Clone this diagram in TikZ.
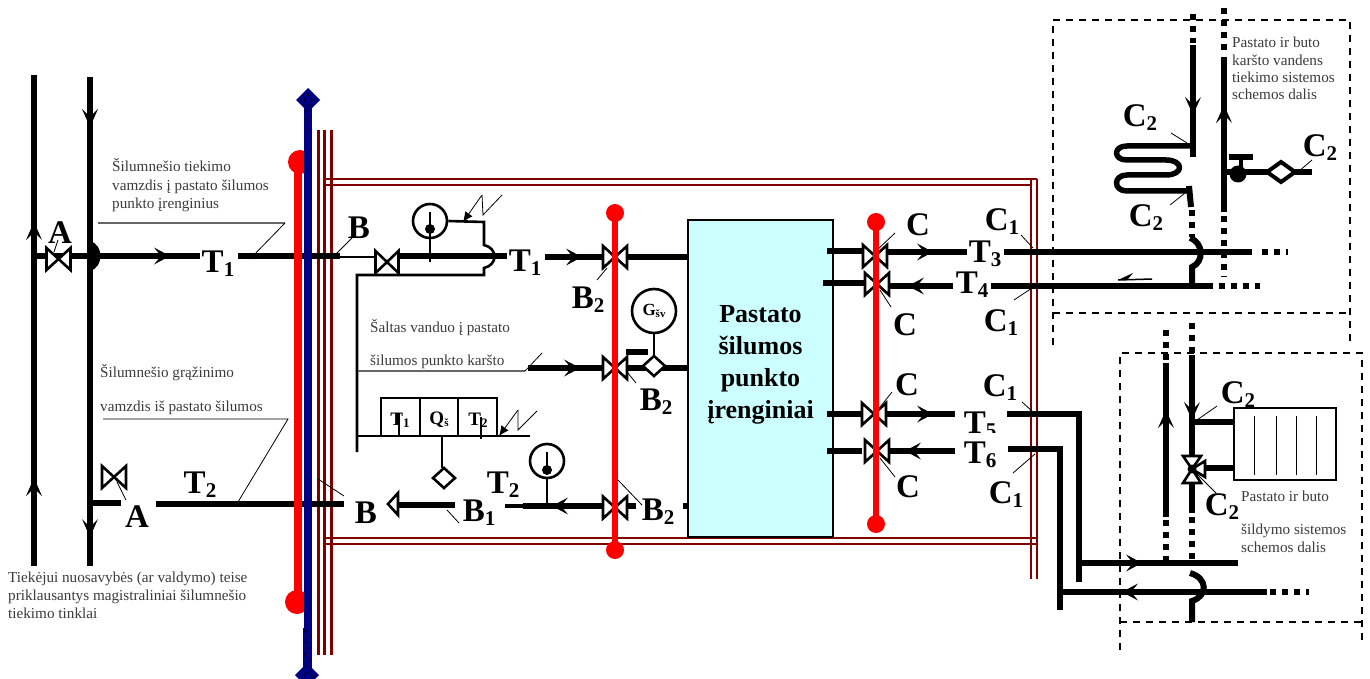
\documentclass[tikz,border=0pt]{standalone}
\usepackage{fontspec}
\setmainfont{Liberation Serif}
\definecolor{wall}{RGB}{128,0,0}
\definecolor{navyp}{RGB}{0,0,128}
\definecolor{hotred}{RGB}{255,0,0}
\definecolor{cyanbox}{RGB}{204,255,255}
\definecolor{notec}{RGB}{60,60,60}
\usetikzlibrary{arrows.meta}
\tikzset{
  pipe/.style={line width=6pt,black},
  dotpipe/.style={line width=6pt,black,dash pattern=on 6pt off 6pt},
  thinpipe/.style={line width=2.6pt,black},
  lead/.style={line width=0.8pt,black},
  leadgray/.style={line width=1.5pt,black!60},
  wallline/.style={line width=2.4pt,wall},
  redpipe/.style={line width=6pt,hotred},
  reddot/.style={circle,fill=hotred,minimum size=18pt,inner sep=0pt},
  bluepipe/.style={line width=8pt,navyp},
  dashbox/.style={line width=1.5pt,black,dash pattern=on 7pt off 6pt},
  tag/.style={font=\fontsize{33}{33}\selectfont\bfseries,inner sep=0pt,text=black},
  notetext/.style={font=\fontsize{15.2}{18}\selectfont,text=notec,inner sep=0pt,anchor=base west},
  gauge/.style={circle,draw=black,line width=2.6pt,fill=white,inner sep=0pt},
  seat/.style={draw=black,line width=2.6pt,fill=white,line join=miter},
  speck/.style={circle,fill=black,inner sep=0pt,minimum size=2pt},
}
\newcommand{\hvalve}[4]{\draw[seat] (#1-#3,#2-#4) -- (#1+#3,#2+#4) -- (#1+#3,#2-#4) -- (#1-#3,#2+#4) -- cycle;}
\newcommand{\headx}[3]{\fill[black] (#1,#2) -- (#1-#3*16,#2-8.5) -- (#1-#3*9,#2) -- (#1-#3*16,#2+8.5) -- cycle;}
\newcommand{\heady}[3]{\fill[black] (#1,#2) -- (#1-8,#2-#3*18) -- (#1,#2-#3*10) -- (#1+8,#2-#3*18) -- cycle;}
\newcommand{\meterd}[4]{\draw[seat] (#1-#3,#2) -- (#1,#2-#4) -- (#1+#3,#2) -- (#1,#2+#4) -- cycle;}
\newcommand{\lab}[4]{\node[tag] (#1) at (#2,#3) {#4};}
\newcommand{\labsub}[5]{\node[tag] (#1) at (#2,#3) {#4\raisebox{-4pt}{\fontsize{21}{21}\selectfont #5}};}
\begin{document}
\begin{tikzpicture}[x=1pt,y=-1pt]
\useasboundingbox[fill=white] (0,0) rectangle (1370,679);
% ---- dark red building walls
\draw[wallline,line width=3pt] (318,130) -- (318,655);
\draw[wallline,line width=3pt] (324,130) -- (324,655);
\draw[wallline,line width=3pt] (331,130) -- (331,655);
\draw[wallline] (326,179) -- (1037,179);
\draw[wallline] (326,185) -- (1031,185);
\draw[wallline] (326,538) -- (1037,538);
\draw[wallline] (326,544) -- (1037,544);
\draw[wallline] (1031,179) -- (1031,579);
\draw[wallline] (1037,179) -- (1037,579);
% ---- supply mains
\draw[pipe] (34,75) -- (34,566);
\draw[pipe] (90,77) -- (90,566);
\heady{34}{222}{-1}\heady{90}{127}{1}\heady{34}{478}{-1}\heady{90}{537}{1}
% ---- T1 supply
\draw[pipe] (34,256) -- (200,256);
\draw[pipe] (238,256) -- (340,256);
\draw[line width=2pt] (340,256.5) -- (375,256.5);
\fill[black] (90,241) .. controls (104,245) and (104,267) .. (90,271) -- cycle;
\headx{170}{256}{1}
\hvalve{58.5}{259}{12}{11}
\lab{labA}{60}{233}{A}
\draw[lead] (58,240) -- (54,252);
\labsub{labTa}{218}{264}{T}{1}
\draw[leadgray] (98,223) -- (285,223);
\draw[lead] (285,223) -- (250,259);
\node[notetext] (n1) at (112,172) {Šilumnešio tiekimo};
\node[notetext] (n2) at (112,190) {vamzdis į pastato šilumos};
\node[notetext] (n3) at (112,208) {punkto įrenginius};
% ---- T2 return
\draw[pipe] (93,503) -- (121,503);
\draw[pipe] (156,504) -- (344,504);
\hvalve{114}{477}{12}{11}
\draw[lead] (117,482) -- (126,500);
\lab{labAb}{137}{517}{A}
\labsub{labTb}{200}{485}{T}{2}
\draw[lead] (103,419) -- (288,419) -- (238,502);
\node[notetext] (n4) at (100,377) {Šilumnešio grąžinimo};
\node[notetext] (n5) at (100,411) {vamzdis iš pastato šilumos};
\node[notetext] (n6) at (8,582) {Tiekėjui nuosavybės (ar valdymo) teise};
\node[notetext] (n7) at (8,600) {priklausantys magistraliniai šilumnešio};
\node[notetext] (n8) at (8,618) {tiekimo tinklai};
\draw[lead] (335,255) -- (352,238);
\lab{labB}{359}{228}{B}
\draw[lead] (318,479) -- (344,496);
\lab{labBb}{366}{513}{B}
% ---- red and blue risers at the wall
\draw[line width=8pt,hotred] (298,160) -- (298,600);
\node[circle,fill=hotred,minimum size=24pt,inner sep=0pt] (rt) at (300,162) {};
\node[circle,fill=hotred,minimum size=24pt,inner sep=0pt] (rb) at (297,602) {};
\draw[bluepipe] (308,100) -- (308,640);
\fill[navyp] (296,100) -- (308,88) -- (320,100) -- (308,112) -- cycle;
\fill[navyp] (303,628) rectangle (312,672);
\fill[navyp] (295,675) -- (307,663) -- (319,675) -- (307,687) -- cycle;
\foreach \sx/\sy in {308/95,304/100,312/100,308/105,306/111,310/116,306/120}{\node[speck] at (\sx,\sy) {};}
\foreach \sx/\sy in {305/631,310/636,306/642,309/648,305/654,310/660,306/666,304/674,309/672,313/676}{\node[speck] at (\sx,\sy) {};}
% ---- upper assembly
\draw[pipe] (398,256) -- (507,256);
\node[gauge,minimum size=34pt] (g1) at (430,221) {};
\draw[thinpipe] (430,212) -- (430,262);
\node[circle,fill=black,inner sep=0pt,minimum size=10pt] (g1d) at (430,229) {};
\draw[thinpipe] (g1.east) -- (484,222) -- (484,245) .. controls (498,248) and (498,265) .. (484,268) -- (484,275) -- (357,275) -- (357,452);
\hvalve{387}{262}{11.5}{11}
\draw[lead,-{Latex[length=10pt,width=9pt]}] (482,195) -- (463,222);
\draw[lead] (482,195) -- (483,215) -- (502,195);
\labsub{labTc}{525}{263}{T}{1}
\draw[pipe] (545,257) -- (688,257);
\headx{582}{257}{1}
\hvalve{615}{257}{12}{11}
\labsub{labBa}{588}{300}{B}{2}
\draw[lead] (607,268) -- (597,280);
% ---- hot water line
\node[notetext] (n9) at (370,332) {Šaltas vanduo į pastato};
\node[notetext] (n10) at (370,365) {šilumos punkto karšto};
\draw[leadgray] (358,371) -- (525,371);
\draw[lead] (525,371) -- (542,353);
\draw[pipe] (528,368) -- (688,368);
\headx{580}{368}{1}
\hvalve{615}{368}{12}{11}
\draw[pipe] (626,352) -- (648,352);
\node[gauge,minimum size=44pt,font=\fontsize{17}{17}\selectfont\bfseries] (gsv) at (654,311) {G\raisebox{-2pt}{\fontsize{11}{11}\selectfont šv}};
\draw[thinpipe] (gsv.south) -- (654,357);
\meterd{654}{366}{11}{10}
\labsub{labBd}{656}{402}{B}{2}
\draw[lead] (627,372) -- (636,383);
% ---- energy meter
\draw[thinpipe] (357,436) -- (530,436);
\draw[thinpipe] (381,398) rectangle (497,436);
\draw[thinpipe] (420,398) -- (420,436);
\draw[thinpipe] (458,398) -- (458,436);
\node[font=\fontsize{19}{19}\selectfont\bfseries,inner sep=0pt] (mt1) at (400,420) {T\raisebox{-2pt}{\fontsize{13}{13}\selectfont 1}};
\node[font=\fontsize{19}{19}\selectfont\bfseries,inner sep=0pt] (mq) at (439,420) {Q\raisebox{-2pt}{\fontsize{11}{11}\selectfont š}};
\node[font=\fontsize{19}{19}\selectfont\bfseries,inner sep=0pt] (mt2) at (478,420) {T\raisebox{-2pt}{\fontsize{13}{13}\selectfont 2}};
\draw[thinpipe] (399,413) -- (399,436);
\draw[thinpipe] (481,417) -- (481,439);
\draw[lead,-{Latex[length=10pt,width=9pt]}] (518,410) -- (499,436);
\draw[lead] (518,410) -- (518,430) -- (537,411);
\draw[thinpipe] (442,436) -- (442,468);
\meterd{444}{478}{11}{10}
% ---- return assembly
\draw[pipe] (398,505) -- (455,505);
\draw[seat] (388,504) -- (398,493) -- (398,515) -- cycle;
\labsub{labBc}{479}{513}{B}{1}
\draw[lead] (447,510) -- (459,523);
\labsub{labTd}{503}{485}{T}{2}
\draw[line width=3.5pt] (505,506) -- (523,506);
\draw[pipe] (523,506) -- (603,506);
\draw[pipe] (627,506) -- (636,506);
\draw[pipe] (683,506) -- (690,506);
\headx{552}{506}{-1}
\draw[thinpipe] (547,478) -- (547,503);
\node[gauge,minimum size=34pt] (g2) at (547,461) {};
\draw[thinpipe] (547,452) -- (547,470);
\node[circle,fill=black,inner sep=0pt,minimum size=10pt] (g2d) at (547,470) {};
\hvalve{615}{507.5}{12}{11}
\labsub{labBe}{658}{512}{B}{2}
\draw[lead] (618,480) -- (642,505);
% ---- central red riser
\draw[redpipe] (615,213) -- (615,550);
\node[reddot] (rd1) at (615,213) {};
\node[reddot] (rd2) at (615,550) {};
% ---- plant box
\node[draw=black,fill=cyanbox,line width=2.6pt,minimum width=145pt,minimum height=317pt,inner sep=0pt] (plant) at (760.5,378.5) {};
\node[inner sep=0pt,align=center,font=\fontsize{26}{32}\selectfont\bfseries] (plantname) at (760.5,365) {Pastato\\šilumos\\punkto\\įrenginiai};
% ---- T3/T4 lines
\draw[pipe] (827,251) -- (863,251);
\draw[pipe] (887,252) -- (967,252);
\draw[pipe] (1004,252) -- (1252,252);
\draw[dotpipe] (1262,252) -- (1288,252);
\headx{933}{252}{1}
\draw[pipe] (823,283) -- (865,283);
\draw[pipe] (890,286) -- (953,286);
\draw[pipe] (991,286) -- (1213,286);
\draw[dotpipe] (1219,286) -- (1260,286);
\headx{908}{286}{-1}
\hvalve{875}{256}{12}{11}
\hvalve{877}{284}{12}{11}
\labsub{labT3}{985}{254}{T}{3}
\labsub{labT4}{972}{285}{T}{4}
\lab{labC1}{918}{225}{C}
\draw[lead] (895,233) -- (875,252);
\lab{labC2}{905}{325}{C}
\draw[lead] (880,290) -- (891,307);
\labsub{labCa}{1002}{222}{C}{1}
\draw[lead] (1021,235) -- (1033,248);
\labsub{labCb}{1001}{323}{C}{1}
\draw[lead] (1014,300) -- (1032,288);
% ---- T5/T6 lines
\draw[pipe] (827,414) -- (862,414);
\draw[pipe] (887,414) -- (955,414);
\headx{933}{414}{1}
\draw[pipe] (827,451) -- (862,451);
\draw[pipe] (887,451) -- (955,451);
\headx{905}{451}{-1}
\hvalve{874}{414}{12}{11}
\hvalve{877}{451}{12}{11}
\labsub{labT5}{980}{425}{T}{5}
\fill[white] (985,433) rectangle (1005,442);
\labsub{labT6}{980}{455}{T}{6}
\fill[white] (985,468) rectangle (1005,478);
\draw[pipe,line join=miter] (1007,414) -- (1079,414) -- (1079,582);
\draw[pipe,line join=miter] (1008,449) -- (1060,449) -- (1060,610);
\draw[pipe] (1079,563) -- (1238,563);
\headx{1142}{563}{1}
\draw[pipe] (1060,592) -- (1267,592);
\draw[dotpipe] (1270,592) -- (1309,592);
\headx{1122}{592}{-1}
\lab{labC3}{907}{385}{C}
\draw[lead] (892,392) -- (880,407);
\lab{labC4}{908}{487}{C}
\draw[lead] (880,458) -- (895,477);
\labsub{labCc}{1000}{388}{C}{1}
\draw[lead] (1022,402) -- (1033,412);
\labsub{labCd}{1006}{495}{C}{1}
\draw[lead] (1013,473) -- (1035,454);
% ---- red riser at C
\draw[redpipe] (876,222) -- (876,524);
\node[reddot] (rd3) at (876,222) {};
\node[reddot] (rd4) at (876,524) {};
% ---- upper dashed zone: hot water
\draw[dashbox] (1053,345) -- (1053,20) -- (1350,20) -- (1350,345);
\draw[dashbox] (1053,313) -- (1350,313);
\draw[dotpipe] (1193,14) -- (1193,43);
\draw[pipe] (1193,45) -- (1193,157);
\heady{1193}{115}{1}
\draw[line width=5.5pt,line join=round] (1193,146) -- (1127,146) .. controls (1113,146) and (1113,160) .. (1127,160) -- (1166,160) .. controls (1184,160) and (1184,175) .. (1166,175) -- (1127,175) .. controls (1113,175) and (1113,191) .. (1127,191) -- (1190,191);
\draw[pipe] (1189,186) -- (1191,207);
\draw[dotpipe] (1192,210) -- (1192,237);
\draw[pipe] (1190,238) .. controls (1204,243) and (1204,262) .. (1192,267) -- (1192,286);
\draw[dotpipe] (1224,8) -- (1224,53);
\draw[pipe] (1224,57) -- (1224,212);
\draw[dotpipe] (1224,216) -- (1224,277);
\heady{1224}{105}{-1}
\draw[pipe] (1229,157) -- (1253,157);
\draw[line width=4pt] (1241,157) -- (1241,172);
\node[circle,fill=black,inner sep=0pt,minimum size=17pt] (wv) at (1238,174) {};
\draw[pipe] (1224,172) -- (1312,172);
\draw[draw=black,line width=4pt,fill=white,line join=miter] (1267,172) -- (1281,162) -- (1295,172) -- (1281,182) -- cycle;
\labsub{labCe}{1140}{118}{C}{2}
\draw[lead] (1171,133) -- (1187,143);
\labsub{labCf}{1320}{148}{C}{2}
\draw[lead] (1298,172) -- (1312,160);
\labsub{labCg}{1146}{218}{C}{2}
\draw[lead] (1170,205) -- (1185,193);
\node[notetext] (n11) at (1232,48) {Pastato ir buto};
\node[notetext] (n12) at (1232,66) {karšto vandens};
\node[notetext] (n13) at (1232,83) {tiekimo sistemos};
\node[notetext] (n14) at (1232,100) {schemos dalis};
\fill[black] (1118,280) -- (1133,273) -- (1128,279) -- cycle;
\draw[line width=1.5pt] (1118,280) -- (1152,279);
% ---- lower dashed zone: heating
\draw[dashbox] (1120,650) -- (1120,353) -- (1362,353) -- (1362,642);
\draw[dashbox] (1120,622) -- (1362,622);
\draw[dotpipe] (1166,330) -- (1166,360);
\draw[pipe] (1166,363) -- (1166,517);
\draw[dotpipe] (1166,520) -- (1166,560);
\heady{1166}{410}{-1}
\draw[dotpipe] (1192,323) -- (1192,355);
\draw[pipe] (1192,355) -- (1192,513);
\draw[dotpipe] (1192,517) -- (1192,560);
\heady{1192}{420}{1}
\draw[pipe] (1192,422) -- (1234,422);
\draw[pipe] (1192,468) -- (1234,468);
\node[draw=black,line width=2.6pt,fill=white,minimum width=102pt,minimum height=72pt,inner sep=0pt] (rad) at (1285,444) {};
\draw[line width=0.9pt] (1254,416) -- (1254,475);
\draw[line width=0.9pt] (1276,416) -- (1276,475);
\draw[line width=0.9pt] (1296,416) -- (1296,475);
\draw[line width=0.9pt] (1316,416) -- (1316,475);
\draw[seat] (1192,469) -- (1183,456) -- (1201,456) -- cycle;
\draw[seat] (1192,469) -- (1183,483) -- (1201,483) -- cycle;
\draw[seat] (1192,469) -- (1205,461) -- (1205,477) -- cycle;
\node[circle,fill=black,inner sep=0pt,minimum size=9pt] (v3) at (1192,469) {};
\labsub{labCh}{1238}{395}{C}{2}
\draw[lead] (1217,406) -- (1197,420);
\labsub{labCi}{1222}{507}{C}{2}
\draw[lead] (1192,469) -- (1216,493);
\node[notetext] (n15) at (1241,501) {Pastato ir buto};
\node[notetext] (n16) at (1241,534) {šildymo sistemos};
\node[notetext] (n17) at (1241,552) {schemos dalis};
\draw[pipe] (1190,573) .. controls (1208,578) and (1208,596) .. (1192,601) -- (1192,622);
\end{tikzpicture}
\end{document}
